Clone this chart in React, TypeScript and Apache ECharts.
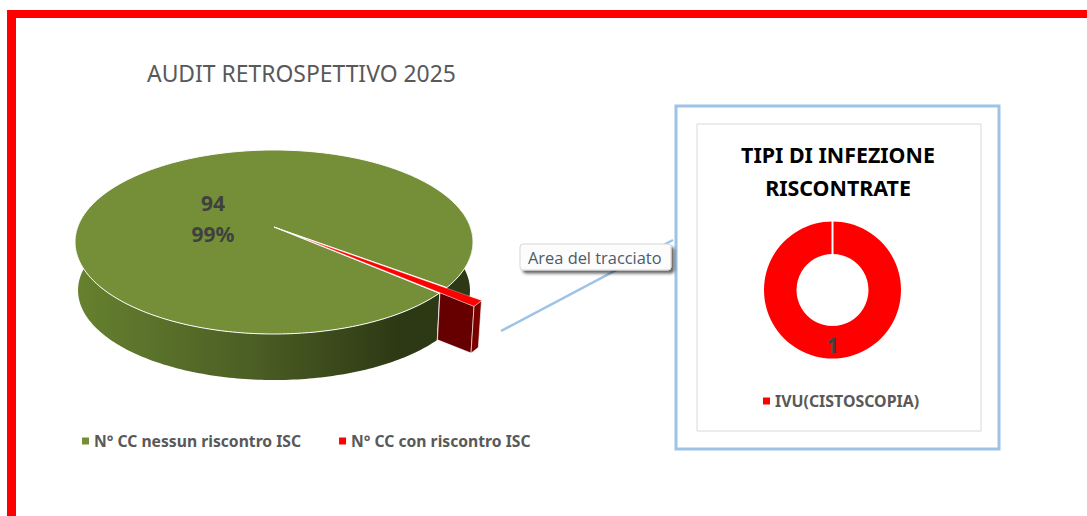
import React, { useEffect, useRef } from "react";
import * as echarts from "echarts";

const chartTitle = "AUDIT RETROSPETTIVO 2025";
const sliceNames = ["N° CC nessun riscontro ISC", "N° CC con riscontro ISC"];
const sliceValues = [94, 1];
const sliceColors = ["#748f38", "#ff0000"];
const sliceExplode = [0, 0.18];
const donutTitle = "TIPI DI INFEZIONE\nRISCONTRATE";
const donutNames = ["IVU(CISTOSCOPIA)"];
const donutValues = [1];
const tipText = "Area del tracciato";

const FONT = "'Noto Sans', sans-serif";
const START_DEG = 41.3;
const TOTAL = sliceValues.reduce((a, b) => a + b, 0);

// perspective projection of the pie disc
const CX = 274, CY = 227, RX = 196.3, RY = 89.56, K = 0.163;
const DEPTH = 48.7, BOTTOM_SCALE_X = 0.985, BOTTOM_SCALE_Y = 0.975;
const rad = (d: number) => (d * Math.PI) / 180;

function project(deg: number, r: number, ex: number, midDeg: number, bottom: boolean) {
  const X = r * Math.cos(rad(deg)) + ex * Math.cos(rad(midDeg));
  const Y = r * Math.sin(rad(deg)) + ex * Math.sin(rad(midDeg));
  const w = 1 - K * Y;
  const sx = bottom ? BOTTOM_SCALE_X : 1;
  const sy = bottom ? BOTTOM_SCALE_Y : 1;
  return [CX + (sx * RX * X) / w, CY + (bottom ? DEPTH : 0) + (sy * RY * Y) / w];
}

function sliceRange(index: number) {
  let a = START_DEG;
  for (let i = 0; i < index; i++) a += (sliceValues[i] / TOTAL) * 360;
  return [a, a + (sliceValues[index] / TOTAL) * 360];
}

function arc(from: number, to: number, ex: number, mid: number, bottom: boolean) {
  const pts: number[][] = [];
  const n = Math.max(2, Math.ceil(Math.abs(to - from)));
  for (let i = 0; i <= n; i++) pts.push(project(from + ((to - from) * i) / n, 1, ex, mid, bottom));
  return pts;
}

function wall(from: number, to: number, ex: number, mid: number) {
  return [...arc(from, to, ex, mid, false), ...arc(from, to, ex, mid, true).reverse()];
}

const wallGradient = new echarts.graphic.LinearGradient(
  75, 0, 473, 0,
  [
    { offset: 0, color: "#66812f" },
    { offset: 0.45, color: "#4b5e24" },
    { offset: 0.82, color: "#2d3814" },
    { offset: 1, color: "#2d3814" },
  ],
  true
);

function renderSlice(index: number) {
  return (_params: any, api: any) => {
    const value = api.value(0);
    const [a, b] = sliceRange(index);
    const mid = (a + b) / 2;
    const ex = sliceExplode[index];
    const children: any[] = [];
    const apex = project(0, 0, ex, mid, false);
    const top = [apex, ...arc(a, b, ex, mid, false)];
    if (index === 0) {
      children.push(
        { type: "polygon", z2: 1, shape: { points: wall(a, 190, ex, mid) }, style: { fill: wallGradient } },
        { type: "polygon", z2: 1, shape: { points: wall(350, b, ex, mid) }, style: { fill: wallGradient } },
        { type: "polygon", z2: 3, shape: { points: top }, style: { fill: sliceColors[0], stroke: "#ffffff", lineWidth: 1 } },
        {
          type: "text", z2: 6, x: 213, y: 203,
          style: { text: String(value), fill: "#404040", fontFamily: FONT, fontWeight: 700, fontSize: 21, align: "center", verticalAlign: "middle" },
        },
        {
          type: "text", z2: 6, x: 213, y: 234,
          style: { text: `${Math.round((value / TOTAL) * 100)}%`, fill: "#404040", fontFamily: FONT, fontWeight: 700, fontSize: 21, align: "center", verticalAlign: "middle" },
        }
      );
    } else {
      const inner = 1 - ex;
      const face = [
        project(b, inner, ex, mid, false),
        project(b, 1, ex, mid, false),
        project(b, 1, ex, mid, true),
        project(b, inner, ex, mid, true),
      ];
      children.push(
        { type: "polygon", z2: 2, shape: { points: face }, style: { fill: "#660000", stroke: "#ffffff", lineWidth: 0.6 } },
        { type: "polygon", z2: 2, shape: { points: wall(a, b, ex, mid) }, style: { fill: "#7a0000", stroke: "#ffffff", lineWidth: 0.6 } },
        { type: "polygon", z2: 4, shape: { points: top }, style: { fill: sliceColors[1], stroke: "rgba(255,255,255,0.6)", lineWidth: 0.5 } }
      );
    }
    return { type: "group", children };
  };
}

export default function App() {
  const ref = useRef<HTMLDivElement>(null);
  useEffect(() => {
    const chart = echarts.init(ref.current!, undefined, { renderer: "svg" });
    chart.setOption({
      animation: false,
      backgroundColor: "#ffffff",
      title: [
        {
          text: chartTitle, left: 147, top: 62,
          padding: 0,
          textStyle: { fontFamily: FONT, fontWeight: 400, fontSize: 22.9, color: "#595959" },
        },
        {
          text: donutTitle, left: 838, top: 138, textAlign: "center",
          padding: 0,
          textStyle: { fontFamily: FONT, fontWeight: 700, fontSize: 21.4, color: "#000000", lineHeight: 33 },
        },
      ],
      legend: [
        {
          data: sliceNames, left: 82, top: 433, padding: 0,
          icon: "rect", itemWidth: 7, itemHeight: 7, itemGap: 38, selectedMode: false,
          textStyle: { fontFamily: FONT, fontWeight: 700, fontSize: 15.7, color: "#595959" },
        },
        {
          data: donutNames, left: 763, top: 393, padding: 0,
          icon: "rect", itemWidth: 7, itemHeight: 7, selectedMode: false,
          textStyle: { fontFamily: FONT, fontWeight: 700, fontSize: 15.9, color: "#595959" },
        },
      ],
      graphic: [
        { type: "rect", silent: true, shape: { x: 7, y: 10, width: 1080, height: 8 }, style: { fill: "#ff0000" } },
        { type: "rect", silent: true, shape: { x: 7, y: 10, width: 9, height: 506 }, style: { fill: "#ff0000" } },
        { type: "rect", silent: true, shape: { x: 676, y: 106, width: 323, height: 343 }, style: { fill: "#ffffff", stroke: "#9dc3e6", lineWidth: 3 } },
        { type: "rect", silent: true, shape: { x: 697, y: 124, width: 284, height: 307 }, style: { fill: "#ffffff", stroke: "#d9d9d9", lineWidth: 1 } },
        { type: "line", silent: true, shape: { x1: 501, y1: 331, x2: 673, y2: 240 }, style: { stroke: "#9dc3e6", lineWidth: 2.5 } },
        {
          type: "rect", silent: true, z: 10,
          shape: { x: 520, y: 244, width: 151, height: 26, r: 3 },
          style: { fill: "#fcfcfc", stroke: "#d6d6d6", lineWidth: 1, shadowColor: "rgba(0,0,0,0.6)", shadowBlur: 3, shadowOffsetX: 3, shadowOffsetY: 3 },
        },
        {
          type: "text", silent: true, z: 11, x: 528, y: 257,
          style: { text: tipText, fill: "#4d5b6b", fontFamily: "'Open Sans', sans-serif", fontSize: 16.4, align: "left", verticalAlign: "middle" },
        },
        { type: "line", silent: true, z: 12, shape: { x1: 832.5, y1: 221, x2: 832.5, y2: 255 }, style: { stroke: "#ffffff", lineWidth: 2 } },
      ],
      series: [
        {
          type: "custom", name: sliceNames[0], coordinateSystem: "none", silent: true,
          itemStyle: { color: sliceColors[0] },
          data: [{ name: sliceNames[0], value: [sliceValues[0]] }],
          renderItem: renderSlice(0),
        },
        {
          type: "custom", name: sliceNames[1], coordinateSystem: "none", silent: true,
          itemStyle: { color: sliceColors[1] },
          data: [{ name: sliceNames[1], value: [sliceValues[1]] }],
          renderItem: renderSlice(1),
        },
        {
          type: "pie", silent: true, center: [832.5, 290], radius: [36, 68.5], startAngle: 90,
          data: donutNames.map((name, i) => ({ name, value: donutValues[i] })),
          itemStyle: { color: "#ff0000" },
          label: { show: true, position: "inside", formatter: "{c}", fontFamily: FONT, fontWeight: 700, fontSize: 21, color: "#404040" },
          labelLine: { show: false },
        },
      ],
    });
    return () => chart.dispose();
  }, []);
  return <div ref={ref} style={{ position: "absolute", left: 0, top: 0, width: 1087, height: 516 }} />;
}
